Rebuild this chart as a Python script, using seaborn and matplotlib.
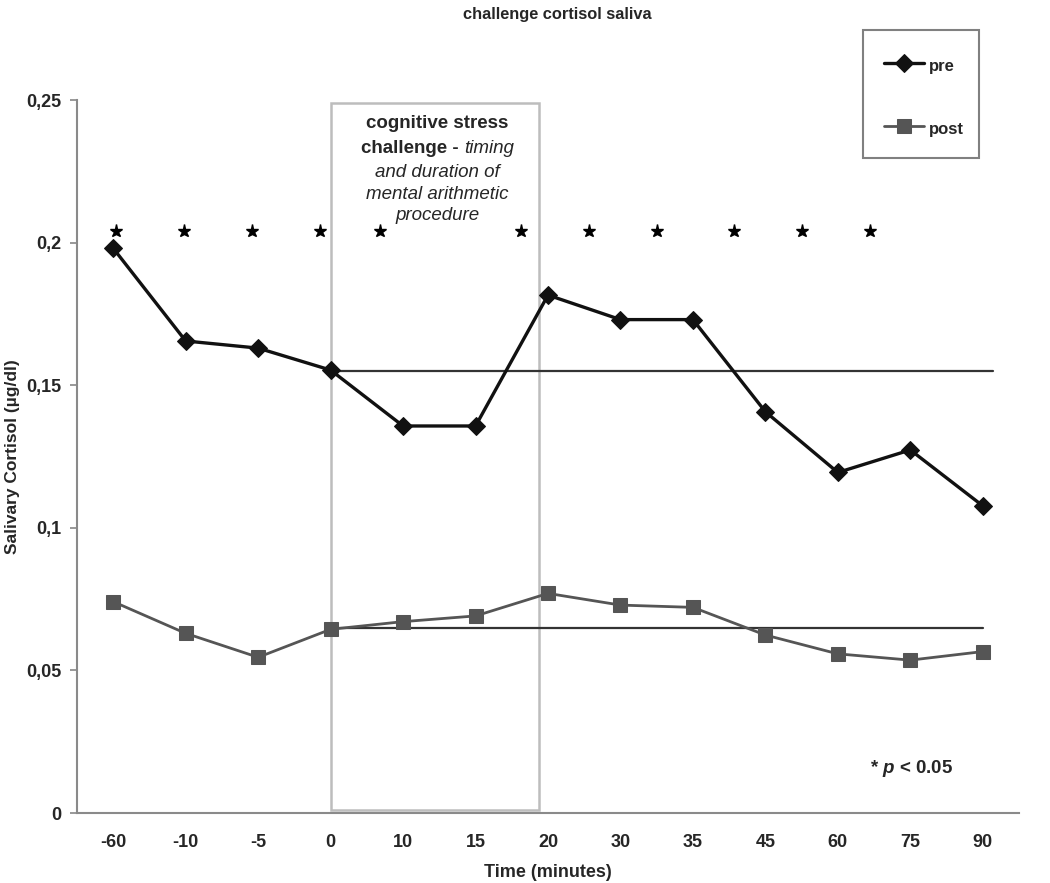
import matplotlib
matplotlib.use('Agg')
import matplotlib.pyplot as plt
import numpy as np
import pandas as pd
import seaborn as sns
from matplotlib.patches import Rectangle

# values
times = ['-60', '-10', '-5', '0', '10', '15', '20', '30', '35', '45', '60', '75', '90']
pre = [0.198, 0.1655, 0.163, 0.1553, 0.1357, 0.1357, 0.1816,
       0.173, 0.173, 0.1407, 0.1194, 0.1273, 0.1077]
post = [0.0741, 0.063, 0.0546, 0.0644, 0.0671, 0.0691, 0.077,
        0.0729, 0.0721, 0.0624, 0.0558, 0.0536, 0.0566]
pre_baseline = 0.155
post_baseline = 0.065
# significance markers (category units) and their height
star_x = [0.04, 0.98, 1.91, 2.85, 3.68, 5.63, 6.57, 7.51, 8.56, 9.5, 10.44]
star_y = 0.204
# stress challenge window, category units
challenge_start = 3.0
challenge_end = 5.88

sns.set_style('white')
plt.rcParams['font.family'] = ['Liberation Sans', 'DejaVu Sans']
plt.rcParams['font.weight'] = 'bold'
plt.rcParams['mathtext.fontset'] = 'custom'
plt.rcParams['mathtext.it'] = 'Liberation Sans:italic:bold'

df = pd.DataFrame({
    'pos': np.tile(np.arange(len(times)), 2),
    'cortisol': pre + post,
    'phase': ['pre'] * len(times) + ['post'] * len(times),
})

fig = plt.figure(figsize=(10.5, 8.83), dpi=100)
ax = fig.add_axes([77 / 1050, 1 - 813 / 883, 942 / 1050, 713 / 883])

sns.lineplot(data=df[df.phase == 'pre'], x='pos', y='cortisol', ax=ax,
             color='#111111', marker='D', markersize=9.5, linewidth=2.4,
             markeredgecolor='#111111', label='pre', zorder=4)
sns.lineplot(data=df[df.phase == 'post'], x='pos', y='cortisol', ax=ax,
             color='#555555', marker='s', markersize=10, linewidth=2.0,
             markeredgecolor='#555555', label='post', zorder=4)

# baselines from time 0
ax.plot([challenge_start, 12.14], [pre_baseline, pre_baseline],
        color='#333333', lw=1.6, zorder=3)
ax.plot([challenge_start, 12.0], [post_baseline, post_baseline],
        color='#333333', lw=1.6, zorder=3)

# stress challenge box
ax.add_patch(Rectangle((challenge_start, 0.001), challenge_end - challenge_start, 0.248,
                       fill=False, edgecolor='#bdbdbd', lw=1.8, zorder=2))
cx = 4.476
fs_box = 13.5
tr = ax.get_xaxis_transform()
ax.text(cx, 0.967, 'cognitive stress', transform=tr, ha='center', va='center',
        fontsize=fs_box, fontweight='bold')
ax.text(4.84, 0.932, 'challenge - ', transform=tr, ha='right', va='center',
        fontsize=fs_box, fontweight='bold')
ax.text(4.84, 0.932, 'timing', transform=tr, ha='left', va='center',
        fontsize=fs_box, fontweight='normal', style='italic')
for yy, line in zip([0.899, 0.868, 0.838],
                    ['and duration of', 'mental arithmetic', 'procedure']):
    ax.text(cx, yy, line, transform=tr, ha='center', va='center',
            fontsize=fs_box, fontweight='normal', style='italic')

# significance stars
ax.plot(star_x, [star_y] * len(star_x), ls='none', marker='*',
        ms=9.5, color='black', zorder=5)

ax.text(0.842, 0.062, r'* $p$ < 0.05', transform=ax.transAxes,
        fontsize=13.5, fontweight='bold', ha='left', va='center')

ax.set_xlim(-0.5, len(times) - 0.5)
ax.set_ylim(0, 0.25)
ax.set_xticks(np.arange(len(times)))
ax.set_xticklabels(times)
ax.set_xticks(np.arange(len(times)) + 0.5, minor=True)
ax.tick_params(axis='x', which='major', length=0, pad=15, labelsize=13)
ax.tick_params(axis='x', which='minor', length=5, width=1.2, color='#888888', direction='out')
ax.set_yticks([0, 0.05, 0.1, 0.15, 0.2, 0.25])
ax.set_yticklabels(['0', '0,05', '0,1', '0,15', '0,2', '0,25'])
ax.tick_params(axis='y', length=5, width=1.2, color='#888888', direction='out',
               pad=6.5, labelsize=13, left=True)

for side in ['top', 'right']:
    ax.spines[side].set_visible(False)
for side in ['left', 'bottom']:
    ax.spines[side].set_color('#8a8a8a')
    ax.spines[side].set_linewidth(1.5)

ax.set_xlabel('Time (minutes)', fontsize=13, fontweight='bold')
ax.set_ylabel('Salivary Cortisol (\u00b5g/dl)', fontsize=12.5, fontweight='bold')
ax.xaxis.set_label_coords(0.5, -0.071)
ax.yaxis.set_label_coords(-0.06, 0.5)

fig.text(557 / 1050, 1 - 15 / 883, 'challenge cortisol saliva', ha='center', va='center',
         fontsize=11.8, fontweight='bold')

# legend entries without frame, frame drawn as its own box
leg = ax.legend(loc='upper left', bbox_to_anchor=(865.7 / 1050, 1 - 36 / 883),
                bbox_transform=fig.transFigure, fontsize=12, frameon=False,
                borderpad=1.1, labelspacing=2.36, handlelength=2.4,
                handleheight=1.8, handletextpad=0.3, borderaxespad=0)
fig.patches.append(Rectangle((862.7 / 1050, 1 - 158 / 883), 116.5 / 1050, 128 / 883,
                             transform=fig.transFigure, fill=False,
                             edgecolor='#808080', lw=1.5))

fig.savefig('out.png', dpi=100)
